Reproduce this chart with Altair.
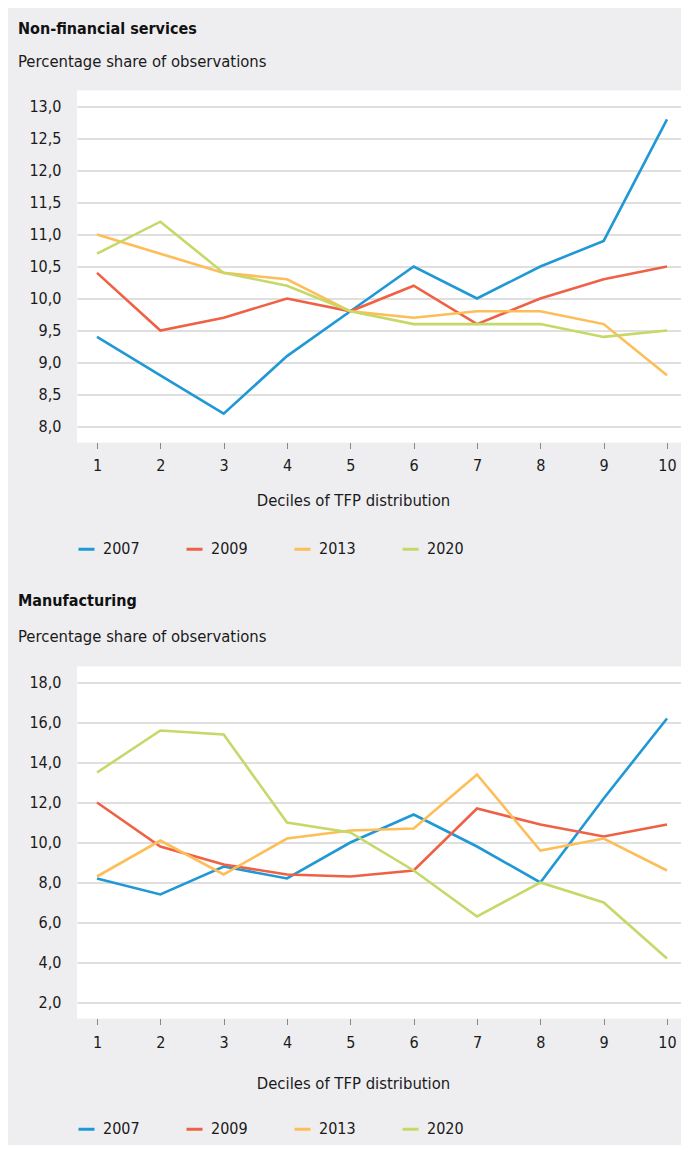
import altair as alt
import pandas as pd

deciles = [1, 2, 3, 4, 5, 6, 7, 8, 9, 10]
years = ["2007", "2009", "2013", "2020"]
colors = ["#1F98D5", "#EF6145", "#FDBD57", "#C5D868"]

nfs_2007 = [9.4, 8.8, 8.2, 9.1, 9.8, 10.5, 10.0, 10.5, 10.9, 12.8]
nfs_2009 = [10.4, 9.5, 9.7, 10.0, 9.8, 10.2, 9.6, 10.0, 10.3, 10.5]
nfs_2013 = [11.0, 10.7, 10.4, 10.3, 9.8, 9.7, 9.8, 9.8, 9.6, 8.8]
nfs_2020 = [10.7, 11.2, 10.4, 10.2, 9.8, 9.6, 9.6, 9.6, 9.4, 9.5]

man_2007 = [8.2, 7.4, 8.8, 8.2, 10.0, 11.4, 9.8, 8.0, 12.2, 16.2]
man_2009 = [12.0, 9.8, 8.9, 8.4, 8.3, 8.6, 11.7, 10.9, 10.3, 10.9]
man_2013 = [8.3, 10.1, 8.4, 10.2, 10.6, 10.7, 13.4, 9.6, 10.2, 8.6]
man_2020 = [13.5, 15.6, 15.4, 11.0, 10.5, 8.6, 6.3, 8.0, 7.0, 4.2]

nfs_ticks = [8.0, 8.5, 9.0, 9.5, 10.0, 10.5, 11.0, 11.5, 12.0, 12.5, 13.0]
man_ticks = [2.0, 4.0, 6.0, 8.0, 10.0, 12.0, 14.0, 16.0, 18.0]

FONT = "Liberation Sans Narrow, Arial Narrow, DejaVu Sans Condensed, sans-serif"


def frame(series):
    rows = []
    for y, vals in zip(years, series):
        for d, v in zip(deciles, vals):
            rows.append({"decile": d, "year": y, "value": v})
    return pd.DataFrame(rows)


def panel(df, title, ydomain, yticks, label_pad, axis_title_y, legend_y,
          sub_pad, offset):
    return (
        alt.Chart(df)
        .mark_line(strokeWidth=2.6)
        .encode(
            x=alt.X(
                "decile:Q",
                scale=alt.Scale(domain=[0.684, 10.221], nice=False, zero=False),
                axis=alt.Axis(
                    values=deciles,
                    title="Deciles of TFP distribution",
                    grid=False,
                    domain=False,
                    ticks=True,
                    tickSize=6,
                    tickColor="#888888",
                    labelPadding=label_pad,
                    titleX=276,
                    titleY=axis_title_y,
                    titleBaseline="alphabetic",
                ),
            ),
            y=alt.Y(
                "value:Q",
                scale=alt.Scale(domain=ydomain, nice=False, zero=False),
                axis=alt.Axis(
                    values=yticks,
                    title=None,
                    domain=False,
                    ticks=False,
                    labelPadding=16,
                    labelExpr="replace(format(datum.value, '.1f'), '.', ',')",
                ),
            ),
            color=alt.Color(
                "year:N",
                scale=alt.Scale(domain=years, range=colors),
                legend=alt.Legend(
                    title=None,
                    orient="none",
                    direction="horizontal",
                    legendX=0,
                    legendY=legend_y,
                    symbolType="stroke",
                    symbolSize=256,
                    symbolStrokeWidth=3,
                    labelOffset=7,
                    columnPadding=40,
                    padding=0,
                ),
            ),
        )
        .properties(
            width=604,
            height=352,
            title=alt.TitleParams(
                text=title,
                subtitle="Percentage share of observations",
                anchor="start",
                frame="group",
                dx=-59,
                offset=offset,
                subtitlePadding=sub_pad,
            ),
        )
    )


top = panel(frame([nfs_2007, nfs_2009, nfs_2013, nfs_2020]),
            "Non-financial services", [7.75, 13.25], nfs_ticks,
            9, 62.5, 449, 17, 20.5)
bottom = panel(frame([man_2007, man_2009, man_2013, man_2020]),
               "Manufacturing", [1.2, 18.8], man_ticks,
               9.5, 70, 453, 20, 21)

chart = (
    alt.vconcat(top, bottom, spacing=35)
    .resolve_legend(color="independent")
    .resolve_scale(color="independent", y="independent")
    .properties(padding={"left": 10, "top": 12.5, "right": 0, "bottom": 7}, background="#EEEEF1")
    .configure_view(fill="white", stroke=None)
    .configure_axis(
        labelFont=FONT, titleFont=FONT, labelFontSize=16, titleFontSize=16.5,
        labelColor="#1a1a1a", titleColor="#1a1a1a", titleFontWeight="normal",
        gridColor="#D4D4D6", gridWidth=1.5,
    )
    .configure_legend(labelFont=FONT, labelFontSize=16, labelColor="#1a1a1a")
    .configure_title(
        font=FONT, fontSize=16, fontWeight="bold", color="#111111",
        subtitleFont=FONT, subtitleFontSize=16.5, subtitleColor="#1a1a1a",
    )
)

chart.save("out.html", embed_options={"renderer": "svg", "actions": False})
